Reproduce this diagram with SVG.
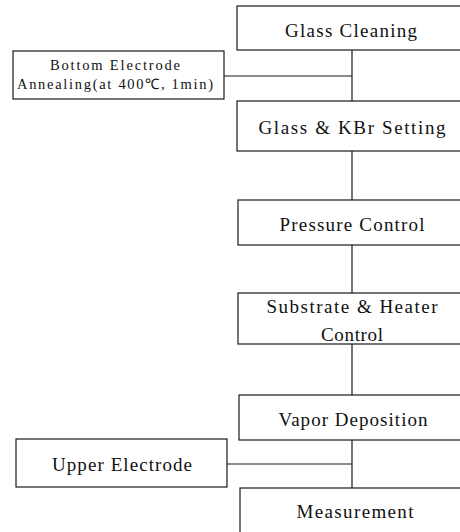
<svg xmlns="http://www.w3.org/2000/svg" width="460" height="532" viewBox="0 0 460 532">
<style>
.box{fill:#fff;stroke:#1a1a1a;stroke-width:1.2}
.ln{stroke:#1a1a1a;stroke-width:1.2;fill:none}
.t{font-family:"Liberation Serif","Times New Roman",serif;font-size:19px;fill:#111;text-anchor:middle}
.s{font-family:"Liberation Serif","Times New Roman",serif;font-size:14.5px;fill:#111;text-anchor:middle}
</style>
<rect width="460" height="532" fill="#fff"/>
<g id="connectors">
<line class="ln" x1="352" y1="50" x2="352" y2="101"/>
<line class="ln" x1="224" y1="76" x2="352" y2="76"/>
<line class="ln" x1="352" y1="151" x2="352" y2="200"/>
<line class="ln" x1="352" y1="245" x2="352" y2="293"/>
<line class="ln" x1="352" y1="344" x2="352" y2="395"/>
<line class="ln" x1="352" y1="440" x2="352" y2="488"/>
<line class="ln" x1="227" y1="464" x2="352" y2="464"/>
</g>
<g id="glass-cleaning">
<rect class="box" x="237" y="6" width="240" height="44"/>
<text class="t" x="351" y="37" textLength="132" lengthAdjust="spacing">Glass Cleaning</text>
</g>
<g id="bottom-electrode">
<rect class="box" x="13" y="51" width="211" height="48"/>
<text class="s" x="115" y="70" textLength="130" lengthAdjust="spacing">Bottom Electrode</text>
<text class="s" x="115" y="89" textLength="196" lengthAdjust="spacing">Annealing(at 400℃, 1min)</text>
</g>
<g id="glass-kbr">
<rect class="box" x="237" y="101" width="240" height="50"/>
<text class="t" x="352" y="134" textLength="187" lengthAdjust="spacing">Glass &amp; KBr Setting</text>
</g>
<g id="pressure-control">
<rect class="box" x="238" y="200" width="240" height="45"/>
<text class="t" x="352" y="231" textLength="145" lengthAdjust="spacing">Pressure Control</text>
</g>
<g id="substrate-heater">
<rect class="box" x="238" y="293" width="240" height="51"/>
<text class="t" x="352" y="313" textLength="171" lengthAdjust="spacing">Substrate &amp; Heater</text>
<text class="t" x="352" y="341" textLength="62" lengthAdjust="spacing">Control</text>
</g>
<g id="vapor-deposition">
<rect class="box" x="239" y="395" width="240" height="45"/>
<text class="t" x="353" y="426" textLength="149" lengthAdjust="spacing">Vapor Deposition</text>
</g>
<g id="upper-electrode">
<rect class="box" x="16" y="439" width="211" height="48"/>
<text class="t" x="122" y="471" textLength="140" lengthAdjust="spacing">Upper Electrode</text>
</g>
<g id="measurement">
<rect class="box" x="240" y="488" width="240" height="60"/>
<text class="t" x="355" y="518" textLength="117" lengthAdjust="spacing">Measurement</text>
</g>
</svg>
